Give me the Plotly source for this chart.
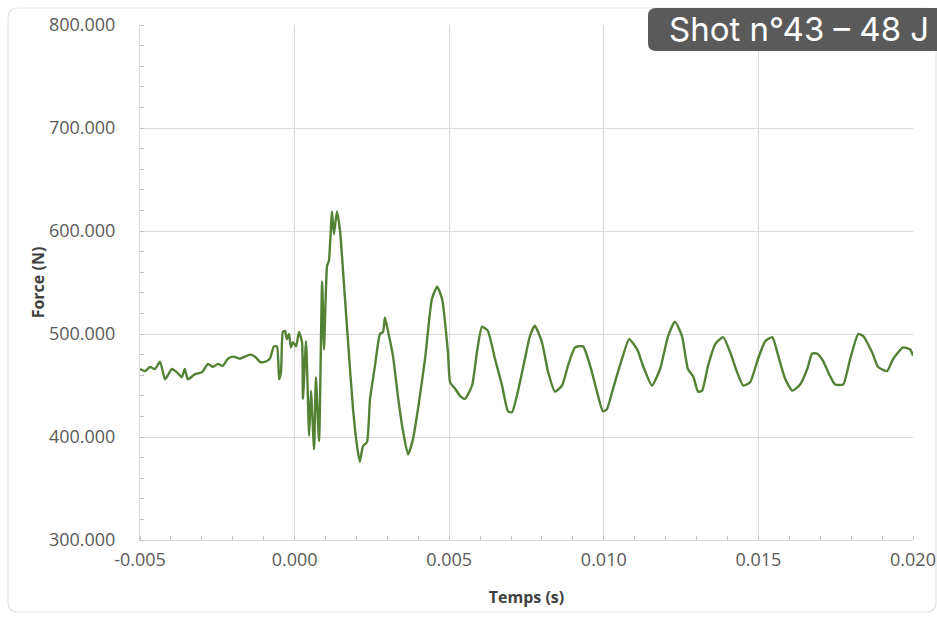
import plotly.graph_objects as go

# Time (s) and force (N)
time_s = [
    -0.00500, -0.00484, -0.00468, -0.00452, -0.00435, -0.00419, -0.00397, -0.00381,
    -0.00365, -0.00355, -0.00345, -0.00322, -0.00299, -0.00280, -0.00264, -0.00248,
    -0.00232, -0.00216, -0.00199, -0.00177, -0.00161, -0.00144, -0.00128, -0.00112,
    -0.00096, -0.00080, -0.00067, -0.00057, -0.00050, -0.00044, -0.00038, -0.00031,
    -0.00025, -0.00018, -0.00012, -0.00005, 0.00005, 0.00014, 0.00024, 0.00027,
    0.00037, 0.00047, 0.00053, 0.00063, 0.00069, 0.00079, 0.00089, 0.00095,
    0.00105, 0.00111, 0.00121, 0.00127, 0.00137, 0.00147, 0.00160, 0.00173,
    0.00189, 0.00202, 0.00211, 0.00221, 0.00234, 0.00244, 0.00260, 0.00276,
    0.00286, 0.00292, 0.00302, 0.00318, 0.00334, 0.00351, 0.00367, 0.00383,
    0.00399, 0.00422, 0.00444, 0.00461, 0.00477, 0.00496, 0.00503, 0.00519,
    0.00535, 0.00551, 0.00574, 0.00590, 0.00606, 0.00625, 0.00648, 0.00671,
    0.00690, 0.00703, 0.00722, 0.00745, 0.00761, 0.00777, 0.00800, 0.00820,
    0.00842, 0.00865, 0.00884, 0.00907, 0.00933, 0.00956, 0.00978, 0.00997,
    0.01010, 0.01030, 0.01059, 0.01082, 0.01108, 0.01127, 0.01156, 0.01182,
    0.01208, 0.01230, 0.01253, 0.01272, 0.01289, 0.01305, 0.01318, 0.01337,
    0.01360, 0.01386, 0.01409, 0.01431, 0.01451, 0.01473, 0.01499, 0.01522,
    0.01545, 0.01564, 0.01587, 0.01610, 0.01635, 0.01658, 0.01674, 0.01690,
    0.01709, 0.01732, 0.01748, 0.01774, 0.01797, 0.01823, 0.01839, 0.01868,
    0.01887, 0.01916, 0.01936, 0.01968, 0.01991, 0.02000,
]
force_n = [
    466, 464, 468, 466, 473, 456, 466, 463,
    458, 466, 456, 461, 463, 471, 468, 471,
    469, 476, 478, 476, 478, 480, 478, 473,
    473, 476, 488, 488, 456, 463, 502, 503,
    495, 500, 487, 492, 488, 502, 492, 437,
    493, 401, 445, 388, 458, 396, 551, 485,
    566, 571, 619, 597, 619, 600, 547, 492,
    427, 391, 376, 391, 395, 437, 469, 500,
    502, 516, 503, 479, 440, 405, 383, 398,
    427, 476, 534, 546, 534, 482, 453, 447,
    440, 437, 450, 483, 507, 503, 476, 450,
    425, 424, 444, 476, 498, 508, 492, 463,
    444, 450, 469, 487, 488, 469, 444, 425,
    427, 447, 476, 495, 485, 469, 450, 466,
    498, 512, 498, 466, 459, 444, 445, 469,
    490, 497, 482, 463, 450, 453, 476, 493,
    497, 479, 456, 445, 451, 466, 481, 481,
    474, 459, 451, 451, 476, 500, 498, 482,
    468, 464, 476, 487, 485, 479,
]

x_ticks = [-0.005, 0.000, 0.005, 0.010, 0.015, 0.020]
x_tick_labels = ["-0.005", "0.000", "0.005", "0.010", "0.015", "0.020"]
y_ticks = [300, 400, 500, 600, 700, 800]
y_tick_labels = ["300.000", "400.000", "500.000", "600.000", "700.000", "800.000"]

title_text = "Shot n°43 – 48 J"

fig = go.Figure()
fig.add_trace(go.Scatter(
    x=time_s, y=force_n, mode="lines",
    line=dict(color="#548235", width=2.4, shape="spline", smoothing=0.5),
    showlegend=False, hoverinfo="skip",
))

FONT = "Open Sans, Liberation Sans, sans-serif"
axis_font = dict(family=FONT, size=18, color="#595959")
title_font = dict(family=FONT, size=16, color="#404040")
fig.update_layout(
    width=937, height=619,
    margin=dict(l=140, r=24, t=25, b=79),
    paper_bgcolor="white", plot_bgcolor="white",
    xaxis=dict(
        range=[-0.005, 0.020], tickvals=x_ticks, ticktext=x_tick_labels,
        showgrid=True, gridcolor="#d9d9d9", gridwidth=1,
        showline=True, linecolor="#d9d9d9", linewidth=1,
        zeroline=False, ticks="", tickfont=axis_font, ticklabelstandoff=3,
        automargin=False,
        minor=dict(dtick=0.001, ticks="inside", ticklen=4, tickcolor="#bfbfbf", showgrid=False),
        title=dict(text="<b>Temps (s)</b>", font=title_font, standoff=22),
    ),
    yaxis=dict(
        range=[300, 800], tickvals=y_ticks, ticktext=y_tick_labels,
        showgrid=True, gridcolor="#d9d9d9", gridwidth=1,
        showline=True, linecolor="#d9d9d9", linewidth=1,
        zeroline=False, ticks="", tickfont=axis_font, ticklabelstandoff=20,
        automargin=False,
        minor=dict(dtick=20, ticks="inside", ticklen=4, tickcolor="#bfbfbf", showgrid=False),
        title=dict(text="<b>Force (N)</b>", font=title_font, standoff=0),
    ),
)

def px2paper_x(px):
    return (px - 140) / 773.0

def px2paper_y(py):
    return (540 - py) / 515.0

def rounded_path(x0, y0, x1, y1, r):
    X = px2paper_x
    Y = px2paper_y
    rx = r / 773.0
    ry = r / 515.0
    a, b, c, d = X(x0), Y(y0), X(x1), Y(y1)
    return (f"M {a+rx},{b} L {c-rx},{b} Q {c},{b} {c},{b-ry} "
            f"L {c},{d+ry} Q {c},{d} {c-rx},{d} L {a+rx},{d} "
            f"Q {a},{d} {a},{d+ry} L {a},{b-ry} Q {a},{b} {a+rx},{b} Z")

fig.add_shape(type="path", xref="paper", yref="paper",
              path=rounded_path(8, 8, 936, 612, 10),
              line=dict(color="#e3e3e3", width=1.2), fillcolor="rgba(0,0,0,0)", layer="below")

fig.add_shape(type="path", xref="paper", yref="paper",
              path=rounded_path(648, 8, 945, 51, 8),
              line=dict(width=0), fillcolor="#5a5a5a", layer="above")

fig.add_annotation(
    xref="paper", yref="paper", x=px2paper_x(667), y=px2paper_y(29.5),
    text=title_text, showarrow=False, xanchor="left", yanchor="middle",
    font=dict(family="Inter, Lato, sans-serif", size=33, color="white"),
)

fig.write_html("out.html")
